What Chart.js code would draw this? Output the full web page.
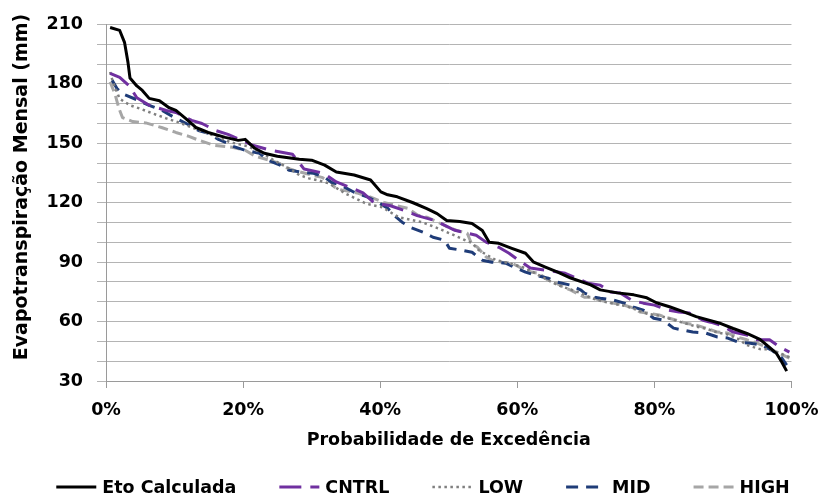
<!DOCTYPE html>
<html>
<head>
<meta charset="utf-8">
<script src="https://cdn.jsdelivr.net/npm/chart.js@4.4.1/dist/chart.umd.min.js"></script>
<style>
  html, body { margin: 0; padding: 0; background: #ffffff; }
  #wrap { width: 830px; height: 497px; }
</style>
</head>
<body>
<div id="wrap"><canvas id="c" width="830" height="497"></canvas></div>
<script>
// Exceedance probability (%) and monthly evapotranspiration (mm) for each series
const etoProb = [0.6,2.0,2.7,3.2,3.5,4.5,5.3,6.3,7.8,9.2,10.2,11.6,13.1,14.9,17.4,19.3,20.3,21.7,23.1,25,28.2,30,31.9,33.6,36.2,38.6,40.1,41.1,42.5,44.8,46.8,48.3,49.7,51.6,53.4,54.9,55.9,57.3,59.2,61.2,62.4,64.1,65.9,67.8,70.7,72.1,74.6,77,78.9,80.3,82.2,84.2,86.1,89.7,91.5,93.5,95.4,96.8,97.8,98.6,99.3];
const etoMm   = [208.5,207,201,191,183,179,176.7,172.7,171.5,168,166.6,162.6,158,155.5,153,151.5,152,147.5,145,143.5,142,141.5,139,135.5,134,131.5,125.5,124,123,120,117,114.5,111,110.5,109.5,106,100,99.5,97,94.5,90,87.5,85,82,78.5,76,74.5,73.5,72,69.5,67.5,65,62.5,59,56.5,54,51,47,44,39.5,35];

const cntrlProb = [0.6,2.0,3.4,4.5,6.3,8.8,10.2,12.5,14,16,17.8,19.5,21.4,24,27.2,28.9,31.7,33.6,35.8,37.5,39.1,41.5,43.4,45.4,48,50.9,54,55.5,57.3,58.8,60.2,61.9,64.1,67,69.3,70.3,72.1,73.6,75,76.7,78.4,80,82,83.6,85.1,87.1,88.2,89.7,91.5,93.5,95,96.8,98.3,99.7];
const cntrlMm   = [185.3,183.3,179,173,169.2,166.6,165.6,161.6,160,156.5,154.5,152,149,146.5,144.5,137,135,130.5,127.5,125,120,118.5,116.2,113.5,111,106.1,103.6,100,97.5,94.5,91,87,86,84.4,80.9,79.4,78.4,74.9,74.4,70.8,69.3,68.3,65.8,64.8,64.3,60.7,59.7,58.2,54.7,53.2,50.8,50.8,47.1,44.6];

const lowProb = [0.6,1.0,2.0,3.5,4.9,6.8,8.8,10.6,12.5,14.5,16.4,18.2,20.7,22.8,24.7,26.7,28.2,29.6,31,32.5,35,38,40.3,42.7,44.1,46.1,48.5,50.5,53.4,54.4,56.9,58.8,61.2,62.6,64.5,65.9,67.2,69.3,70.7,72.1,74.1,75.6,77,78.9,80.7,82.2,84.6,86.1,87.5,89.2,90.7,92.1,93.5,95.4,96.8,98,99.7];
const lowMm   = [186,181,172.5,169.2,167.6,165.1,162.6,160.6,158,155.5,153,150.5,148.5,145,141,137.4,134,132.3,131.3,129.8,124.5,119.5,117.7,112.7,111.7,110.2,107,104,99.6,96,91,89.5,87,84.4,80.9,78.4,76.9,74.4,72,70.5,69,68,66.5,64,63,61.5,59,57.5,56.5,54.5,53.5,51.5,48.1,46.1,46,44.5,42];

const midProb = [0.9,1.6,2.4,4.5,6.3,8.2,10.2,12,13.5,15,16.4,17.8,18.5,20.3,22.4,23.6,25.4,26.7,28.6,30.3,31.9,32.9,34.3,36.2,38.2,39.7,41.1,42,43.2,44.4,46.3,47.7,49.4,50.1,52,53.4,54.9,56.3,58.3,59.5,61.2,62.6,64.5,65.9,67.8,69.3,69.8,71.3,72.1,74.1,75.6,77,78.4,79.9,81.3,82.8,84.2,85.6,87.5,89.2,90.7,92.2,94,95.7,97.1,98.6,99.3];
const midMm   = [181.8,177.7,175,172,169.2,166.6,162.6,159.5,156.5,155,152,150,148.5,146.5,145,141.5,139,136.4,135.4,134.9,132.8,130.3,128.8,125.3,122.8,120.2,117.2,113.7,110.2,107.6,105.1,102.6,101.1,97,96,95,91,90,89.5,87.5,85,83.4,81.9,79.9,78.4,75.9,74.4,72.3,71.8,70.8,69.3,67.3,65.8,61.7,60.7,56.7,55.7,54.7,54.2,52.2,51.7,49.6,49.1,48.1,45.6,41.6,38];

const highProb = [0.6,1.3,1.9,2.4,3.9,5.8,8.1,10.2,12.1,13.6,15.8,18.4,20.3,21.8,23.9,25.3,26.1,27.4,30,31.5,32.9,33.3,34.3,36.8,38.6,40.5,42.2,44,45.5,46.8,48.4,49.9,51.1,52.7,53.3,54.2,55.5,56.3,57.8,59.2,60.6,62.1,63.1,64.5,65.7,67,67.8,69.8,70.7,72.1,74.1,75.6,77,77.9,78.9,80.7,82.2,83.2,84.6,86.1,87.5,89.2,90.7,92.1,93.5,95,96.4,97.8,99.7];
const highMm   = [181,175,167.5,163,161,160.3,158,155.5,153.5,151.5,149,148,146.5,143.5,141.4,139.9,137.9,136.4,134,132.8,130.3,128,126.5,124.8,122.8,120.2,118.7,117.2,113.7,112.7,110.2,107.6,106.1,104.6,99.6,97.5,92.5,91,90,89.5,87,85,84.4,80.9,79.4,76.9,75.9,72.3,72.3,70.8,69.3,68.3,66.8,64.8,64.3,63.3,61.7,60.7,59.2,58.2,56.7,54.7,54.2,52.2,50.8,49.1,47.1,44.6,41.6];

const seriesNames = ['Eto Calculada', 'CNTRL', 'LOW', 'MID', 'HIGH'];
const xTitle = 'Probabilidade de Excedência';
const yTitle = 'Evapotranspiração Mensal (mm)';

const FONT = "'DejaVu Sans', sans-serif";

function points(xs, ys) {
  return xs.map((x, i) => ({ x: x, y: ys[i] }));
}

// Bottom legend: line sample followed by the series name
const bottomLegend = {
  id: 'bottomLegend',
  afterDraw(chart) {
    const ctx = chart.ctx;
    ctx.save();
    ctx.font = 'bold 17.5px ' + FONT;
    const sample = 40, gap = 6, space = 43;
    const items = chart.data.datasets.map(d => ({ d: d, w: ctx.measureText(d.label).width }));
    const total = items.reduce((s, it) => s + sample + gap + it.w, 0) + space * (items.length - 1);
    let x = 423 - total / 2;
    const y = 487;
    items.forEach(it => {
      ctx.beginPath();
      ctx.strokeStyle = it.d.borderColor;
      ctx.lineWidth = it.d.borderWidth;
      ctx.setLineDash(it.d.borderDash || []);
      ctx.moveTo(x, y);
      ctx.lineTo(x + sample, y);
      ctx.stroke();
      ctx.setLineDash([]);
      ctx.fillStyle = '#000';
      ctx.textAlign = 'left';
      ctx.textBaseline = 'middle';
      ctx.fillText(it.d.label, x + sample + gap, y + 1);
      x += sample + gap + it.w + space;
    });
    ctx.restore();
  }
};

// Rotated title beside the vertical axis
const verticalTitle = {
  id: 'verticalTitle',
  afterDraw(chart) {
    const ctx = chart.ctx;
    ctx.save();
    ctx.translate(22, 187);
    ctx.rotate(-Math.PI / 2);
    ctx.font = 'bold 19px ' + FONT;
    ctx.fillStyle = '#000';
    ctx.textAlign = 'center';
    ctx.textBaseline = 'middle';
    ctx.fillText(yTitle, 0, 0);
    ctx.restore();
  }
};

new Chart(document.getElementById('c'), {
  type: 'line',
  data: {
    datasets: [
      { label: seriesNames[0], data: points(etoProb, etoMm), borderColor: '#000000', borderWidth: 3 },
      { label: seriesNames[1], data: points(cntrlProb, cntrlMm), borderColor: '#7030a0', borderWidth: 3, borderDash: [22, 9] },
      { label: seriesNames[2], data: points(lowProb, lowMm), borderColor: '#7f7f7f', borderWidth: 2.5, borderDash: [2.5, 3.5] },
      { label: seriesNames[3], data: points(midProb, midMm), borderColor: '#1f3c78', borderWidth: 3, borderDash: [12, 8] },
      { label: seriesNames[4], data: points(highProb, highMm), borderColor: '#a6a6a6', borderWidth: 3, borderDash: [10, 5] }
    ]
  },
  options: {
    responsive: false,
    animation: false,
    devicePixelRatio: 1,
    layout: { padding: { top: 24, right: 28, bottom: 35, left: 0 } },
    plugins: { legend: { display: false }, tooltip: { enabled: false } },
    elements: {
      point: { radius: 0 },
      line: { tension: 0, borderJoinStyle: 'round', fill: false }
    },
    scales: {
      x: {
        type: 'linear',
        min: 0,
        max: 100,
        ticks: {
          stepSize: 20,
          autoSkip: false,
          maxRotation: 0,
          padding: 11.5,
          color: '#000',
          font: { family: FONT, size: 17.5, weight: 'bold' },
          callback: v => v + '%'
        },
        grid: { drawOnChartArea: false, drawTicks: true, tickLength: 7, color: '#9a9a9a' },
        border: { display: true, color: '#9a9a9a', width: 1 },
        title: {
          display: true,
          text: xTitle,
          color: '#000',
          font: { family: FONT, size: 17.5, weight: 'bold' },
          padding: { top: 0, bottom: 11.5 }
        },
        afterFit(scale) { scale.height = 81; }
      },
      y: {
        min: 30,
        max: 210,
        ticks: {
          stepSize: 10,
          autoSkip: false,
          padding: 14,
          color: '#000',
          font: { family: FONT, size: 17.5, weight: 'bold' },
          callback: v => (v % 30 === 0 ? v : '')
        },
        grid: { color: '#b4b4b4', drawTicks: true, tickLength: 9 },
        border: { display: true, color: '#9a9a9a', width: 1 },
        afterFit(scale) { scale.width = 106; }
      }
    }
  },
  plugins: [bottomLegend, verticalTitle]
});
</script>
</body>
</html>
